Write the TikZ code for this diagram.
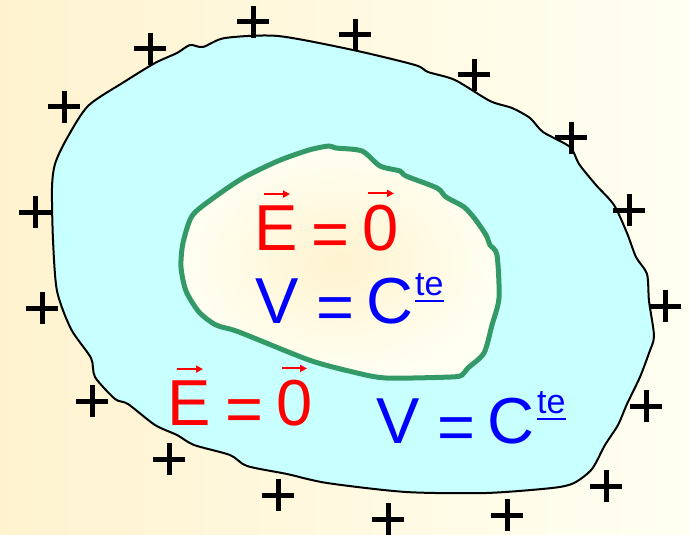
\documentclass[tikz,border=0pt]{standalone}
\usepackage{fontspec}
\setmainfont{Liberation Sans}
\usetikzlibrary{arrows.meta}

\definecolor{paleyellow}{HTML}{FFF3CF}
\definecolor{paleivory}{HTML}{FFFFF2}
\definecolor{conductor}{HTML}{C8FFFF}
\definecolor{cavityline}{HTML}{339966}

\tikzset{
  bigtext/.style={font=\fontsize{65}{78}\selectfont, inner sep=0pt, anchor=base},
  fieldtext/.style={bigtext, text=red},
  potentialtext/.style={bigtext, text=blue},
  suptext/.style={font=\fontsize{34}{40}\selectfont, inner sep=0pt, anchor=base west, text=blue},
  vecarrow/.style={red, line width=2pt, -{Triangle[length=7pt,width=7pt]}},
  supline/.style={blue, line width=2pt},
  charge/.style={black, line width=5pt},
}

\begin{document}
\begin{tikzpicture}[x=1pt,y=-1pt]

  \def\hl{16}   % half length of a charge sign
  \def\chargeat(#1,#2){\draw[charge] ({#1-\hl},#2) -- ({#1+\hl},#2) (#1,{#2-\hl}) -- (#1,{#2+\hl});}

  % background
  \useasboundingbox (0,0) rectangle (689,535);
  \shade[left color=paleyellow, right color=paleivory] (0,0) rectangle (689,535);

  % conductor
  \draw[black, line width=2pt, fill=conductor] plot[smooth cycle, tension=0.45] coordinates {
    (177,53) (190,45) (203,47) (225,38) (278,36) (353,50) (415,65) (428,72)
    (455,80) (490,101) (512,108) (530,118) (543,132) (570,147) (579,164) (596,185)
    (614,205) (627,233) (636,257) (647,274) (649,301) (654,336) (649,353) (640,377)
    (627,404) (618,425) (605,445) (592,469) (574,483) (552,488) (486,493) (406,492)
    (327,483) (287,474) (247,466) (230,455) (194,445) (177,435) (155,425) (128,404)
    (115,399) (95,377) (91,358) (71,329) (57,291) (53,240) (52,188) (55,164)
    (66,140) (88,106) (124,82) (155,63)};

  % cavity
  \draw[cavityline, line width=5pt, inner color=paleyellow, outer color=paleivory]
    plot[smooth cycle, tension=0.45] coordinates {
    (329,146) (336,148) (362,151) (380,166) (400,171) (406,176) (437,188) (446,197)
    (464,207) (475,219) (486,235) (490,245) (497,255) (499,298) (492,325) (484,353)
    (468,368) (462,375) (451,377) (386,378) (353,372) (309,360) (239,332) (216,325)
    (199,312) (186,291) (181,267) (183,243) (192,216) (212,199) (243,178) (278,161)
    (309,150)};

  % charges
  \chargeat(253,22)
  \chargeat(355,35)
  \chargeat(150,49)
  \chargeat(474,75)
  \chargeat(64,107)
  \chargeat(571,138)
  \chargeat(35,212)
  \chargeat(629,210)
  \chargeat(42,308)
  \chargeat(665,306)
  \chargeat(92,401)
  \chargeat(646,406)
  \chargeat(169,459)
  \chargeat(606,486)
  \chargeat(278,495)
  \chargeat(388,519)
  \chargeat(507,515)

  % inside the cavity
  \node[fieldtext] (E1) at (276,250) {E};
  \node[fieldtext] (eq1) at (330,256) {=};
  \node[fieldtext] (zero1) at (381,250) {0};
  \draw[vecarrow] ([xshift=-12pt,yshift=11pt]E1.north) -- ([xshift=14pt,yshift=11pt]E1.north);
  \draw[vecarrow] ([xshift=-13pt,yshift=11pt]zero1.north) -- ([xshift=13pt,yshift=11pt]zero1.north);

  \node[potentialtext] (V1) at (277,323) {V};
  \node[potentialtext] (eq2) at (335,329) {=};
  \node[potentialtext] (C1) at (390,323) {C};
  \node[suptext] (te1) at (415,295) {te};
  \draw[supline] ([yshift=-5pt]te1.south west) -- ([yshift=-5pt]te1.south east);

  % inside the conductor
  \node[fieldtext] (E2) at (189,425) {E};
  \node[fieldtext] (eq3) at (244,431) {=};
  \node[fieldtext] (zero2) at (295,425) {0};
  \draw[vecarrow] ([xshift=-12pt,yshift=11pt]E2.north) -- ([xshift=14pt,yshift=11pt]E2.north);
  \draw[vecarrow] ([xshift=-13pt,yshift=11pt]zero2.north) -- ([xshift=12pt,yshift=11pt]zero2.north);

  \node[potentialtext] (V2) at (398,443) {V};
  \node[potentialtext] (eq4) at (456,449) {=};
  \node[potentialtext] (C2) at (511,443) {C};
  \node[suptext] (te2) at (537,413) {te};
  \draw[supline] ([yshift=-5pt]te2.south west) -- ([yshift=-5pt]te2.south east);

\end{tikzpicture}
\end{document}
